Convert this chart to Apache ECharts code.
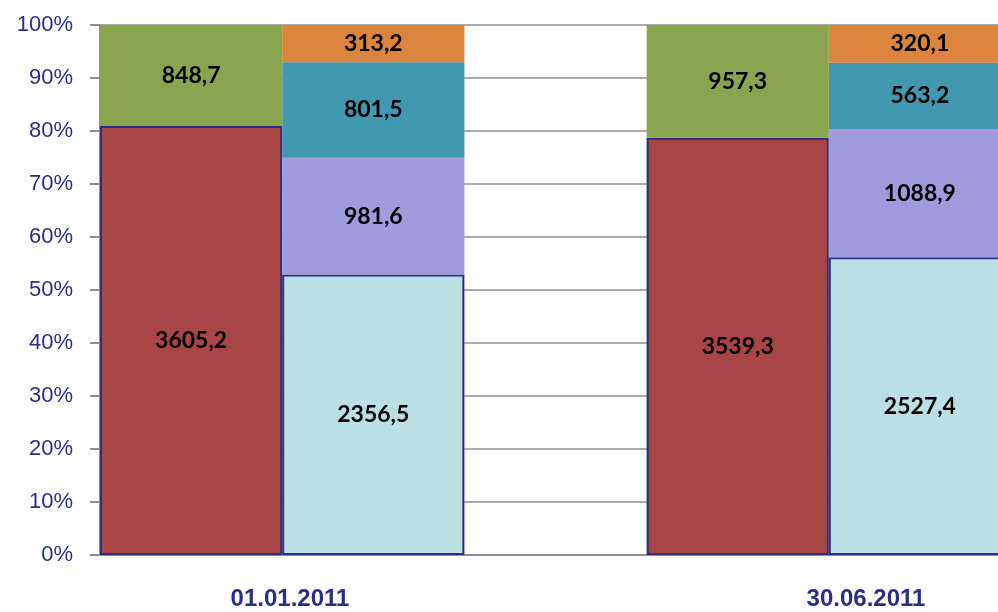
<!DOCTYPE html>
<html>
<head>
<meta charset="utf-8">
<script src="https://cdn.jsdelivr.net/npm/echarts@6/dist/echarts.min.js"></script>
<style>
  html, body { margin: 0; padding: 0; background: #fff; }
  #main { width: 998px; height: 612px; }
</style>
</head>
<body>
<div id="main"></div>
<script>
// даты (подписи групп)
var categories = ['01.01.2011', '30.06.2011'];
// левая колонка каждой группы
var redVals = [3605.2, 3539.3];
var greenVals = [848.7, 957.3];
// правая колонка каждой группы
var cyanVals = [2356.5, 2527.4];
var lavVals = [981.6, 1088.9];
var tealVals = [801.5, 563.2];
var orangeVals = [313.2, 320.1];
var yTicks = [0, 10, 20, 30, 40, 50, 60, 70, 80, 90, 100];

(function(){
	var slots = ['s0', 's1', 's2', 's3', 's4'];	// 0,3 - левые колонки; 1,4 - правые; 2 - пусто
	var navy = '#2b2f84';

	function total(arrs, i){
		var s = 0;
		arrs.forEach(function(a){ s += a[i]; });
		return s;
	}

	// раскладываем значения по слотам и считаем проценты
	function build(vals, group, side){
		var out = ['-', '-', '-', '-', '-'];
		for (var i = 0; i < vals.length; i++){
			var t = total(group, i);
			var slot = side === 'L' ? i * 3 : i * 3 + 1;
			out[slot] = { value: vals[i] / t * 100, raw: vals[i] };
		}
		return out;
	}

	var leftGroup = [redVals, greenVals];
	var rightGroup = [cyanVals, lavVals, tealVals, orangeVals];

	function fmt(p){
		return p.data.raw.toFixed(1).replace('.', ',');
	}

	function serie(name, vals, group, side, color, border){
		return {
			name: name,
			type: 'bar',
			stack: 'all',
			barWidth: '100%',
			data: build(vals, group, side),
			itemStyle: {
				color: color,
				borderColor: border ? navy : color,
				borderWidth: border ? 2 : 0
			},
			label: {
				show: true,
				position: 'inside',
				formatter: fmt,
				color: '#000',
				fontFamily: 'Lato',
				fontWeight: 'bold',
				fontSize: 23
			}
		};
	}

	var chart = echarts.init(document.getElementById('main'));
	var option = {
		animation: false,
		backgroundColor: '#fff',
		grid: { left: 100, top: 25, width: 911, height: 530, outerBoundsMode: 'none' },
		xAxis: {
			type: 'category',
			data: slots,
			boundaryGap: true,
			axisLine: { show: true, lineStyle: { color: '#8f8f8f', width: 2 } },
			axisTick: { show: false },
			axisLabel: { show: false }
		},
		yAxis: {
			type: 'value',
			min: yTicks[0],
			max: yTicks[yTicks.length - 1],
			interval: 10,
			axisLine: { show: true, lineStyle: { color: '#8f8f8f', width: 2 } },
			axisTick: { show: true, length: 10, lineStyle: { color: '#8f8f8f', width: 2 } },
			axisLabel: {
				formatter: '{value}%',
				color: navy,
				fontFamily: 'Liberation Sans',
				fontSize: 22,
				margin: 27
			},
			splitLine: { lineStyle: { color: '#8f8f8f', width: 1.5 } }
		},
		graphic: [
			{ type: 'text', x: 290, y: 599, style: { text: categories[0], fill: navy, font: 'bold 24px "Liberation Sans"', align: 'center', verticalAlign: 'middle' } },
			{ type: 'text', x: 866, y: 599, style: { text: categories[1], fill: navy, font: 'bold 24px "Liberation Sans"', align: 'center', verticalAlign: 'middle' } }
		],
		series: [
			serie('red', redVals, leftGroup, 'L', '#a84545', true),
			serie('green', greenVals, leftGroup, 'L', '#8aa54f', false),
			serie('cyan', cyanVals, rightGroup, 'R', '#bae0e3', true),
			serie('lavender', lavVals, rightGroup, 'R', '#9f9cdc', false),
			serie('teal', tealVals, rightGroup, 'R', '#4298af', false),
			serie('orange', orangeVals, rightGroup, 'R', '#db843d', false)
		]
	};
	chart.setOption(option);
})();
</script>
</body>
</html>
